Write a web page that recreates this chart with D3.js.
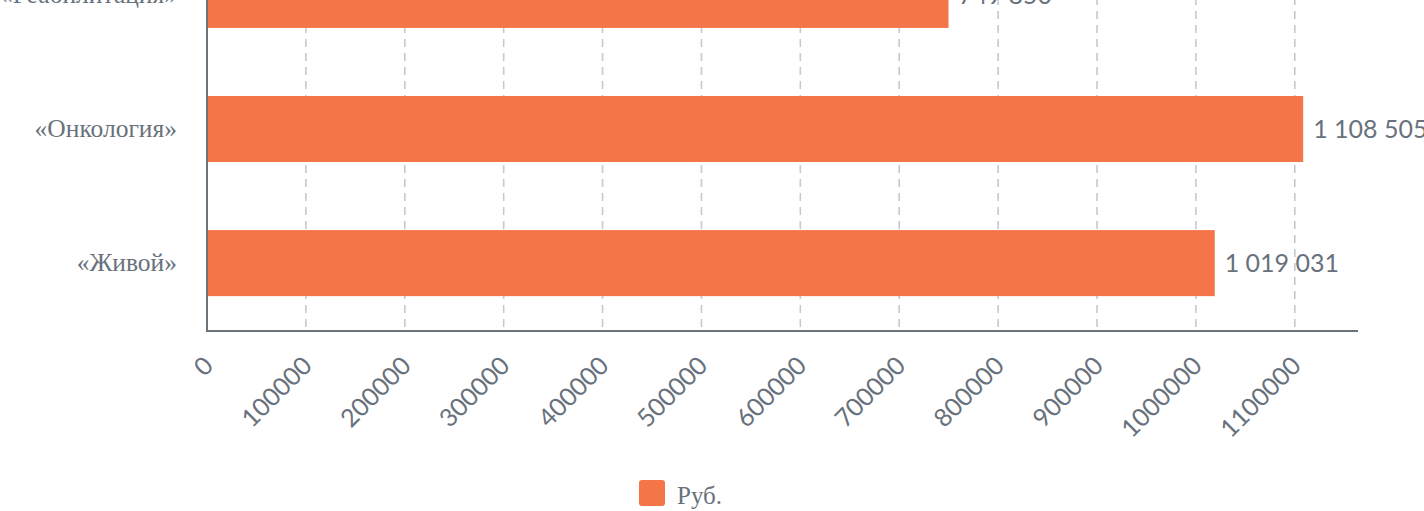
<!DOCTYPE html>
<html>
<head>
<meta charset="utf-8">
<script src="https://cdn.jsdelivr.net/npm/d3@7"></script>
<style>
	html, body { margin: 0; padding: 0; background: #fff; overflow: hidden; }
	#chart { width: 1424px; height: 511px; }
</style>
</head>
<body>
<div id="chart"></div>
<script>
	var categories = ["«Реабилитация»", "«Онкология»", "«Живой»"];
	var values = [749850, 1108505, 1019031];
	var tickValues = [0, 100000, 200000, 300000, 400000, 500000, 600000, 700000, 800000, 900000, 1000000, 1100000];
	var legendLabels = ["Руб."];

	var barColor = "#F37548",
		textColor = "#68717c",
		axisColor = "#6b737b",
		gridColor = "#c6c9ce";

	var width = 1424,
		height = 511;

	// plot area (top part is scrolled out of view in the reference)
	var plot = {
		left: 207,
		right: 1358,
		top: -73,
		bottom: 331
	};

	var data = categories.map(function(name, i) {
		return { name: name, value: values[i] };
	});

	var svg = d3.select("#chart").append("svg")
		.attr("width", width)
		.attr("height", height);

	var xScale = d3.scaleLinear()
		.domain([0, d3.max(values) * 1.05])
		.range([plot.left, plot.right]);

	var yScale = d3.scaleBand()
		.domain(categories)
		.range([plot.top, plot.bottom])
		.paddingInner(0.5075)
		.paddingOuter(0.26);

	// dashed vertical grid lines
	svg.append("g")
		.attr("class", "grid")
		.selectAll("line")
		.data(tickValues.slice(1))
		.enter()
		.append("line")
		.attr("x1", function(d) { return xScale(d); })
		.attr("x2", function(d) { return xScale(d); })
		.attr("y1", plot.top)
		.attr("y2", plot.bottom)
		.style("stroke", gridColor)
		.style("stroke-width", 1.6)
		.style("stroke-dasharray", "8,6");

	// bars
	svg.append("g")
		.attr("class", "bars")
		.selectAll("rect")
		.data(data)
		.enter()
		.append("rect")
		.attr("x", xScale(0))
		.attr("y", function(d) { return yScale(d.name); })
		.attr("width", function(d) { return xScale(d.value) - xScale(0); })
		.attr("height", yScale.bandwidth())
		.style("fill", barColor);

	// value labels with space as thousands separator
	var ruFormat = d3.formatLocale({ decimal: ",", thousands: " ", grouping: [3], currency: ["", ""] }).format(",d");

	svg.append("g")
		.attr("class", "values")
		.selectAll("text")
		.data(data)
		.enter()
		.append("text")
		.attr("x", function(d) { return xScale(d.value) + 10; })
		.attr("y", function(d) { return yScale(d.name) + yScale.bandwidth() / 2; })
		.attr("dy", "0.35em")
		.style("font-family", "Lato, sans-serif")
		.style("font-size", "25px")
		.style("fill", textColor)
		.text(function(d) { return ruFormat(d.value); });

	// category labels (left axis)
	var yAxis = d3.axisLeft(yScale)
		.tickSize(0)
		.tickPadding(30);

	var yAxisG = svg.append("g")
		.attr("class", "y axis")
		.attr("transform", "translate(" + plot.left + ",0)")
		.call(yAxis);

	yAxisG.select(".domain").remove();
	yAxisG.selectAll("text")
		.style("font-family", "'Liberation Serif', 'Times New Roman', serif")
		.style("font-size", "25.5px")
		.style("fill", textColor);

	// x axis tick labels, rotated
	var xAxis = d3.axisBottom(xScale)
		.tickValues(tickValues)
		.tickSize(0)
		.tickFormat(d3.format("d"));

	var xAxisG = svg.append("g")
		.attr("class", "x axis")
		.attr("transform", "translate(0," + plot.bottom + ")")
		.call(xAxis);

	xAxisG.select(".domain").remove();
	xAxisG.selectAll("text")
		.attr("y", 0)
		.attr("dy", "0.35em")
		.attr("transform", "translate(1,30) rotate(-45)")
		.style("text-anchor", "end")
		.style("font-family", "Lato, sans-serif")
		.style("font-size", "25px")
		.style("fill", textColor);

	// axis lines
	svg.append("line")
		.attr("x1", plot.left)
		.attr("y1", plot.top)
		.attr("x2", plot.left)
		.attr("y2", plot.bottom)
		.style("stroke", axisColor)
		.style("stroke-width", 2);

	svg.append("line")
		.attr("x1", plot.left - 1)
		.attr("y1", plot.bottom)
		.attr("x2", plot.right)
		.attr("y2", plot.bottom)
		.style("stroke", axisColor)
		.style("stroke-width", 2);

	// legend
	var legend = svg.append("g")
		.attr("class", "legend")
		.attr("transform", "translate(639,480)");

	var legendEntries = legend.selectAll("g")
		.data(legendLabels)
		.enter()
		.append("g");

	legendEntries.append("rect")
		.attr("width", 26)
		.attr("height", 26)
		.attr("rx", 3)
		.style("fill", barColor);

	legendEntries.append("text")
		.attr("x", 38)
		.attr("y", 24)
		.style("font-family", "'Liberation Serif', 'Times New Roman', serif")
		.style("font-size", "25px")
		.style("fill", textColor)
		.text(function(d) { return d; });
</script>
</body>
</html>
